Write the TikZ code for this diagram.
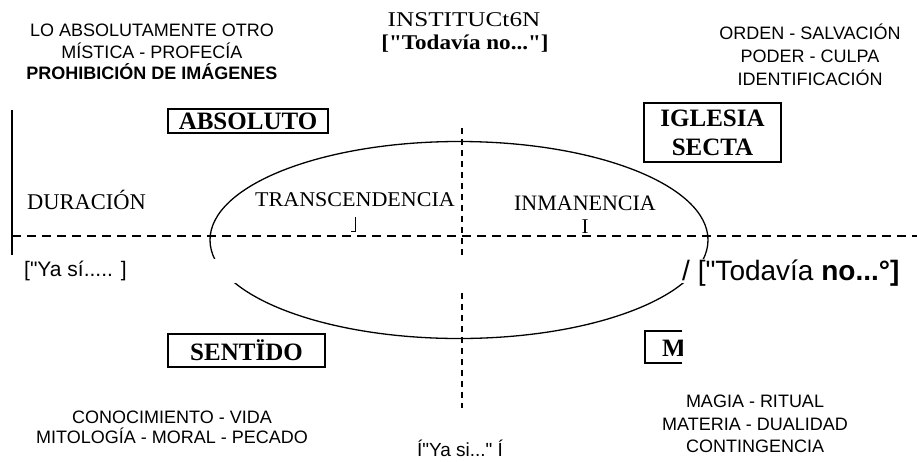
\documentclass[tikz,border=0pt]{standalone}
\usepackage{fontspec}
\setmainfont{Liberation Serif}[Ligatures=TeXOff]
\setsansfont{Liberation Sans}[Ligatures=TeXOff]
\begin{document}
\begin{tikzpicture}[x=1pt,y=-1pt,
  sanstxt/.style={font=\sffamily\fontsize{18}{21.5}\selectfont, align=center, inner sep=0pt},
  seriftxt/.style={font=\rmfamily\fontsize{21}{25}\selectfont, align=center, inner sep=0pt},
  boxlbl/.style={draw, line width=1.1pt, font=\rmfamily\bfseries\fontsize{25}{29}\selectfont, align=center, inner sep=0pt},
  axisline/.style={line width=1.9pt, dash pattern=on 9pt off 6pt},
  vaxis/.style={line width=1.9pt, dash pattern=on 6pt off 5pt},
  ovalline/.style={line width=1.3pt}]
\useasboundingbox (0,0) rectangle (917,461);
\fill[white] (0,0) rectangle (917,461);

% axes
\coordinate (hl) at (12,236);
\coordinate (hr) at (917,236);
\coordinate (vt) at (462,128);
\coordinate (vm1) at (462,256);
\coordinate (vm2) at (462,293);
\coordinate (vb) at (462,408);
\coordinate (lt) at (12,110);
\coordinate (lb) at (12,255);
\draw[line width=1.4pt] (lt) -- (lb);
\draw[axisline] (hl) -- (hr);
\draw[vaxis] (vt) -- (vm1);
\draw[vaxis] (vm2) -- (vb);

% ellipse (with white band)
\coordinate (ec) at (459,240);
\begin{scope}
  \clip (0,0) rectangle (917,258);
  \draw[ovalline] (ec) ellipse [x radius=249, y radius=98.5];
\end{scope}
\begin{scope}
  \clip (0,283) rectangle (917,461);
  \draw[ovalline] (ec) ellipse [x radius=249, y radius=98.5];
\end{scope}

% top texts
\node[sanstxt] (tl) at (152,52) {LO ABSOLUTAMENTE OTRO\\MÍSTICA - PROFECÍA\\\textbf{PROHIBICIÓN DE IMÁGENES}};
\node[seriftxt] (inst) at (464,20) {\scalebox{1.2}[1]{INSTITUCt6N}};
\node[seriftxt, font=\rmfamily\bfseries\fontsize{21}{25}\selectfont] (tod) at (465,44) {\scalebox{1.1}[1]{["Todavía no..."]}};
\node[sanstxt, font=\sffamily\fontsize{18}{23}\selectfont] (tr) at (810,55) {ORDEN - SALVACIÓN\\PODER - CULPA\\IDENTIFICACIÓN};

% boxes
\node[boxlbl, minimum width=160, minimum height=24] (abs) at (248,121) {ABSOLUTO};
\node[boxlbl, minimum width=137, minimum height=59] (igl) at (712.5,132.5) {IGLESIA\\SECTA};
\node[boxlbl, minimum width=157, minimum height=33] (sen) at (246.5,350.5) {SENTÏDO};
\coordinate (m1) at (682,331);
\coordinate (m2) at (645,331);
\coordinate (m3) at (645,363);
\coordinate (m4) at (682,363);
\draw[line width=1.1pt] (m1) -- (m2) -- (m3) -- (m4);
\begin{scope}
  \clip (640,320) rectangle (682,370);
  \node[font=\rmfamily\bfseries\fontsize{25}{29}\selectfont, inner sep=0pt, anchor=west] (mm) at (662,348) {M};
\end{scope}

% inner labels
\node[seriftxt, font=\rmfamily\fontsize{22.5}{26}\selectfont] (dur) at (86.5,200) {DURACIÓN};
\node[seriftxt] (trans) at (355,200) {\scalebox{1.05}[1]{TRANSCENDENCIA}};
\coordinate (j1) at (355,217);
\coordinate (j2) at (355,231);
\coordinate (j3) at (351,231);
\draw[line width=1pt] (j1) -- (j2) -- (j3);
\node[seriftxt, font=\rmfamily\fontsize{22}{26}\selectfont] (inm) at (585,203) {INMANENCIA};
\node[seriftxt] (ii) at (585,227) {I};

% side labels
\node[sanstxt, font=\sffamily\fontsize{21}{25}\selectfont, anchor=base west] (yasi) at (24,276) {["Ya sí..... ]};
\node[sanstxt, font=\sffamily\fontsize{28}{32}\selectfont, anchor=base west] (todr) at (682,280) {/ ["Todavía \textbf{no...°]}};

% bottom texts
\node[sanstxt, font=\sffamily\fontsize{18}{20}\selectfont] (bl) at (172,427) {CONOCIMIENTO - VIDA\\MITOLOGÍA - MORAL - PECADO};
\node[sanstxt, font=\sffamily\fontsize{18}{22.5}\selectfont] (br) at (755,424) {MAGIA - RITUAL\\MATERIA - DUALIDAD\\CONTINGENCIA};
\node[sanstxt, font=\sffamily\fontsize{19}{23}\selectfont, anchor=base] (yasib) at (460,456) {Í"Ya si..." Í};
\end{tikzpicture}
\end{document}
